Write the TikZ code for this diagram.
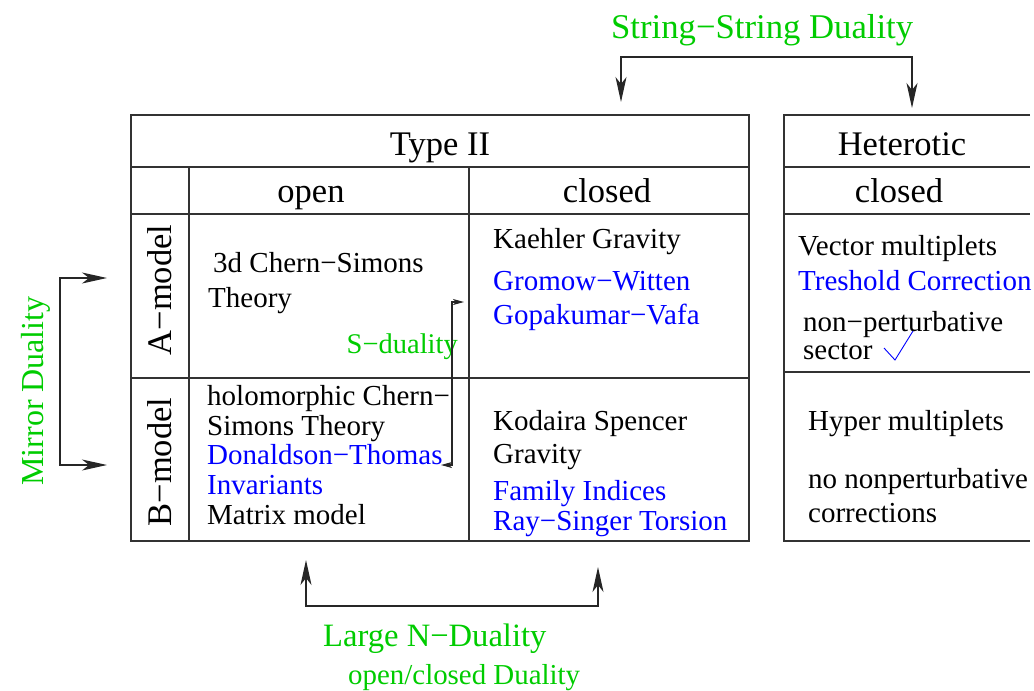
\documentclass[tikz,border=0pt]{standalone}
\usepackage{fontspec}
\setmainfont{Liberation Serif}
\usetikzlibrary{arrows.meta}
\definecolor{dgreen}{RGB}{0,204,0}
\definecolor{dblue}{RGB}{0,0,255}
\definecolor{linec}{RGB}{50,50,50}
\begin{document}
\begin{tikzpicture}[x=1pt,y=-1pt,
  txt/.style={inner sep=0pt, anchor=base west, font=\fontsize{29}{35}\selectfont},
  btxt/.style={txt, text=dblue},
  head/.style={inner sep=0pt, anchor=base, font=\fontsize{34.5}{40}\selectfont},
  glabel/.style={inner sep=0pt, anchor=base west, text=dgreen},
  grid/.style={line width=1.3pt, draw=linec},
  dual/.style={line width=1.3pt, draw=black!85, {Stealth[length=25pt,width=11pt,inset=7pt]}-{Stealth[length=25pt,width=11pt,inset=7pt]}},
  sdual/.style={line width=1.1pt, draw=black!85, {Stealth[length=11pt,width=6pt,inset=3pt]}-{Stealth[length=11pt,width=6pt,inset=3pt]}}
]
\useasboundingbox (0,0) rectangle (1034,691);

% Type II table
\draw[grid] (131,115) rectangle (749,541);
\draw[grid] (131,167) -- (749,167);
\draw[grid] (131,214) -- (749,214);
\draw[grid] (131,378) -- (749,378);
\draw[grid] (189,167) -- (189,541);
\draw[grid] (469,167) -- (469,541);

% Heterotic table
\draw[grid] (1030,115) -- (784,115) -- (784,541) -- (1030,541);
\draw[grid] (784,167) -- (1030,167);
\draw[grid] (784,214) -- (1030,214);
\draw[grid] (784,372) -- (1030,372);

% headings
\node[head] (typeii) at (440,155) {Type II};
\node[head] (open) at (311,202) {open};
\node[head] (closed) at (607,202) {closed};
\node[head] (het) at (902,155) {Heterotic};
\node[head] (hclosed) at (899,202) {closed};
\node[head, rotate=90] (amodel) at (171,290) {A−model};
\node[head, rotate=90] (bmodel) at (171,462) {B−model};

% A open
\node[txt] (cs1) at (213,272) {3d Chern−Simons};
\node[txt] (cs2) at (208,307) {Theory};
% A closed
\node[txt] (kg) at (493,248) {Kaehler Gravity};
\node[btxt] (gw) at (493,290) {Gromow−Witten};
\node[btxt] (gv) at (493,324) {Gopakumar−Vafa};
% B open
\node[txt] (hcs1) at (207,405) {holomorphic Chern−};
\node[txt] (hcs2) at (207,435) {Simons Theory};
\node[btxt] (dt1) at (207,464) {Donaldson−Thomas};
\node[btxt] (dt2) at (207,494) {Invariants};
\node[txt] (mm) at (207,524) {Matrix model};
% B closed
\node[txt] (ks1) at (493,430) {Kodaira Spencer};
\node[txt] (ks2) at (493,463) {Gravity};
\node[btxt] (fi) at (493,500) {Family Indices};
\node[btxt] (rs) at (493,530) {Ray−Singer Torsion};
% Heterotic
\node[txt] (vm) at (798,255) {Vector multiplets};
\node[btxt] (tc) at (798,290) {Treshold Correction};
\node[txt] (np1) at (803,331) {non−perturbative};
\node[txt] (np2) at (803,359) {sector};
\draw[dblue, line width=0.9pt] (884,348) -- (895,360) -- (913,331);
\node[txt] (hm) at (808,430) {Hyper multiplets};
\node[txt] (nn1) at (808,488) {no nonperturbative};
\node[txt] (nn2) at (808,522) {corrections};

% duality labels
\node[glabel, font=\fontsize{34.7}{40}\selectfont] (ssd) at (611,38) {String−String Duality};
\node[glabel, font=\fontsize{32.6}{38}\selectfont] (lnd) at (323,646) {Large N−Duality};
\node[glabel, font=\fontsize{28.9}{34}\selectfont] (ocd) at (348,684) {open/closed Duality};
\node[glabel, font=\fontsize{28.5}{34}\selectfont, anchor=base east] (sd) at (458,353) {S−duality};
\node[glabel, font=\fontsize{32}{38}\selectfont, anchor=base, rotate=90] (md) at (43,391) {Mirror Duality};

% duality arrows
\coordinate (ssA) at (621,102);
\coordinate (ssC) at (912,57);
\coordinate (ssB) at (912,108);
\draw[dual] (ssA) |- (ssC) -- (ssB);

\coordinate (mA) at (107,278);
\coordinate (mC) at (60,465);
\coordinate (mB) at (107,465);
\draw[dual] (mA) -| (mC) -- (mB);

\coordinate (lA) at (306,560);
\coordinate (lC) at (598,606);
\coordinate (lB) at (598,567);
\draw[dual] (lA) |- (lC) -- (lB);

\coordinate (sA) at (464,302);
\coordinate (sC) at (452,465);
\coordinate (sB) at (441,465);
\draw[sdual] (sA) -| (sC) -- (sB);
\end{tikzpicture}
\end{document}
